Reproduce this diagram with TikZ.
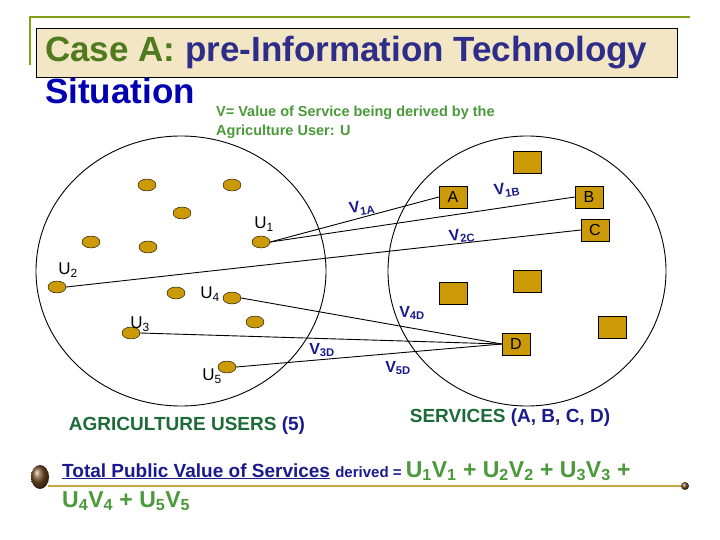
\documentclass[tikz,border=0pt]{standalone}
\usepackage{fontspec}
\setmainfont{Liberation Sans}
\usetikzlibrary{shapes.geometric}
\begin{document}
\begin{tikzpicture}[x=1pt,y=-1pt,
  dot/.style={ellipse,draw=black,fill=gold,minimum width=18pt,minimum height=12pt,inner sep=0pt},
  sq/.style={rectangle,draw=black,fill=gold,minimum width=28pt,minimum height=22pt,inner sep=0pt,font=\fontsize{16}{16}\selectfont},
  ulab/.style={font=\fontsize{17}{17}\selectfont,text=black},
  vlab/.style={font=\bfseries\fontsize{16}{16}\selectfont,text=navy},
  link/.style={draw=black,line width=0.9pt}]
\definecolor{gold}{HTML}{CC9A06}
\definecolor{navy}{HTML}{1A1A8C}
\definecolor{titlenavy}{HTML}{2E2E8A}
\definecolor{olive}{HTML}{4F7A1E}
\definecolor{tan}{HTML}{F2E6C4}
\definecolor{dgreen}{HTML}{1E6B3A}
\definecolor{lgreen}{HTML}{4A9A3A}
\definecolor{lineGold}{HTML}{C8A840}
\useasboundingbox (0,0) rectangle (720,540);
\fill[white] (0,0) rectangle (720,540);
% title decoration
\draw[olive!70!yellow,line width=1.5pt] (30,65) -- (30,17) -- (690,17);
\node[draw=black,fill=tan,minimum width=641pt,minimum height=49pt,inner sep=0pt,anchor=north west] (tbox) at (36,28) {};
\node[anchor=base west,inner sep=0pt,font=\bfseries\fontsize{35}{35}\selectfont] (title) at (45,62) {\textcolor{olive}{Case A:} \textcolor{titlenavy}{pre-Information Technology}};
\node[anchor=base west,inner sep=0pt,font=\bfseries\fontsize{35}{35}\selectfont,text=blue!70!black] (sit) at (45,104) {Situation};
\node[anchor=north west,inner sep=0pt,align=left,font=\bfseries\fontsize{14.5}{19}\selectfont,text=lgreen] (sub) at (216,106) {V= Value of Service being derived by the\\Agriculture User: U};
% circles
\draw[line width=0.9pt] (181,271) ellipse [x radius=145, y radius=135];
\draw[line width=0.9pt] (527,271) ellipse [x radius=139, y radius=135];
% dots
\node[dot] (d1) at (147,185) {};
\node[dot] (d2) at (232,185) {};
\node[dot] (d3) at (182,213) {};
\node[dot] (d4) at (91,242) {};
\node[dot] (d5) at (148,247) {};
\node[dot] (u1) at (261,242) {};
\node[dot] (u2) at (57,287) {};
\node[dot] (d6) at (176,293) {};
\node[dot] (u4) at (232,298) {};
\node[dot] (d7) at (255,322) {};
\node[dot] (u3) at (131,333) {};
\node[dot] (u5) at (227,367) {};
% squares
\node[sq] (s1) at (527,162) {};
\node[sq] (A) at (453,197) {A};
\node[sq] (B) at (589,197) {B};
\node[sq] (C) at (595,230) {C};
\node[sq] (s2) at (453,293) {};
\node[sq] (s3) at (527,281) {};
\node[sq] (s4) at (612,327) {};
\node[sq] (D) at (516,344) {D};
% links
\draw[link] (u1.east) -- (A.west);
\draw[link] (u1.east) -- (B.west);
\draw[link] (u2.east) -- (C.west);
\draw[link] (u4.east) -- (D.west);
\draw[link] (u3.east) -- (D.west);
\draw[link] (u5.east) -- (D.west);
% labels
\node[ulab] (lu1) at (264,224) {U\textsubscript{1}};
\node[ulab] (lu2) at (68,270) {U\textsubscript{2}};
\node[ulab] (lu4) at (210,294) {U\textsubscript{4}};
\node[ulab] (lu3) at (140,324) {U\textsubscript{3}};
\node[ulab] (lu5) at (212,376) {U\textsubscript{5}};
\node[vlab,rotate=8] (v1a) at (362,208) {V\textsubscript{1A}};
\node[vlab,rotate=8] (v1b) at (507,190) {V\textsubscript{1B}};
\node[vlab,rotate=8] (v2c) at (462,236) {V\textsubscript{2C}};
\node[vlab] (v4d) at (412,313) {V\textsubscript{4D}};
\node[vlab] (v3d) at (322,350) {V\textsubscript{3D}};
\node[vlab] (v5d) at (398,368) {V\textsubscript{5D}};
\node[font=\bfseries\fontsize{19}{19}\selectfont] (agr) at (187,426) {\textcolor{dgreen}{AGRICULTURE USERS} \textcolor{navy}{(5)}};
\node[font=\bfseries\fontsize{19}{19}\selectfont] (serv) at (510,418) {\textcolor{dgreen}{SERVICES} \textcolor{navy}{(A, B, C, D)}};
% bottom
\draw[lineGold,line width=1.3pt] (48,486) -- (684,486);
\shade[ball color=brown!60!black] (40,477) ellipse [x radius=9, y radius=12];
\shade[ball color=brown!60!black] (685,486) circle (4);
\node[anchor=base west,inner sep=0pt] (tot) at (62,477) {\bfseries\fontsize{19}{19}\selectfont\textcolor{navy}{\underline{Total Public Value of Services}} \fontsize{15}{15}\selectfont\textcolor{navy}{derived =} \fontsize{23}{23}\selectfont\textcolor{lgreen}{U\textsubscript{1}V\textsubscript{1} + U\textsubscript{2}V\textsubscript{2} + U\textsubscript{3}V\textsubscript{3} +}};
\node[anchor=base west,inner sep=0pt,font=\bfseries\fontsize{23}{23}\selectfont,text=lgreen] (tot2) at (62,507) {U\textsubscript{4}V\textsubscript{4} + U\textsubscript{5}V\textsubscript{5}};
\end{tikzpicture}
\end{document}
